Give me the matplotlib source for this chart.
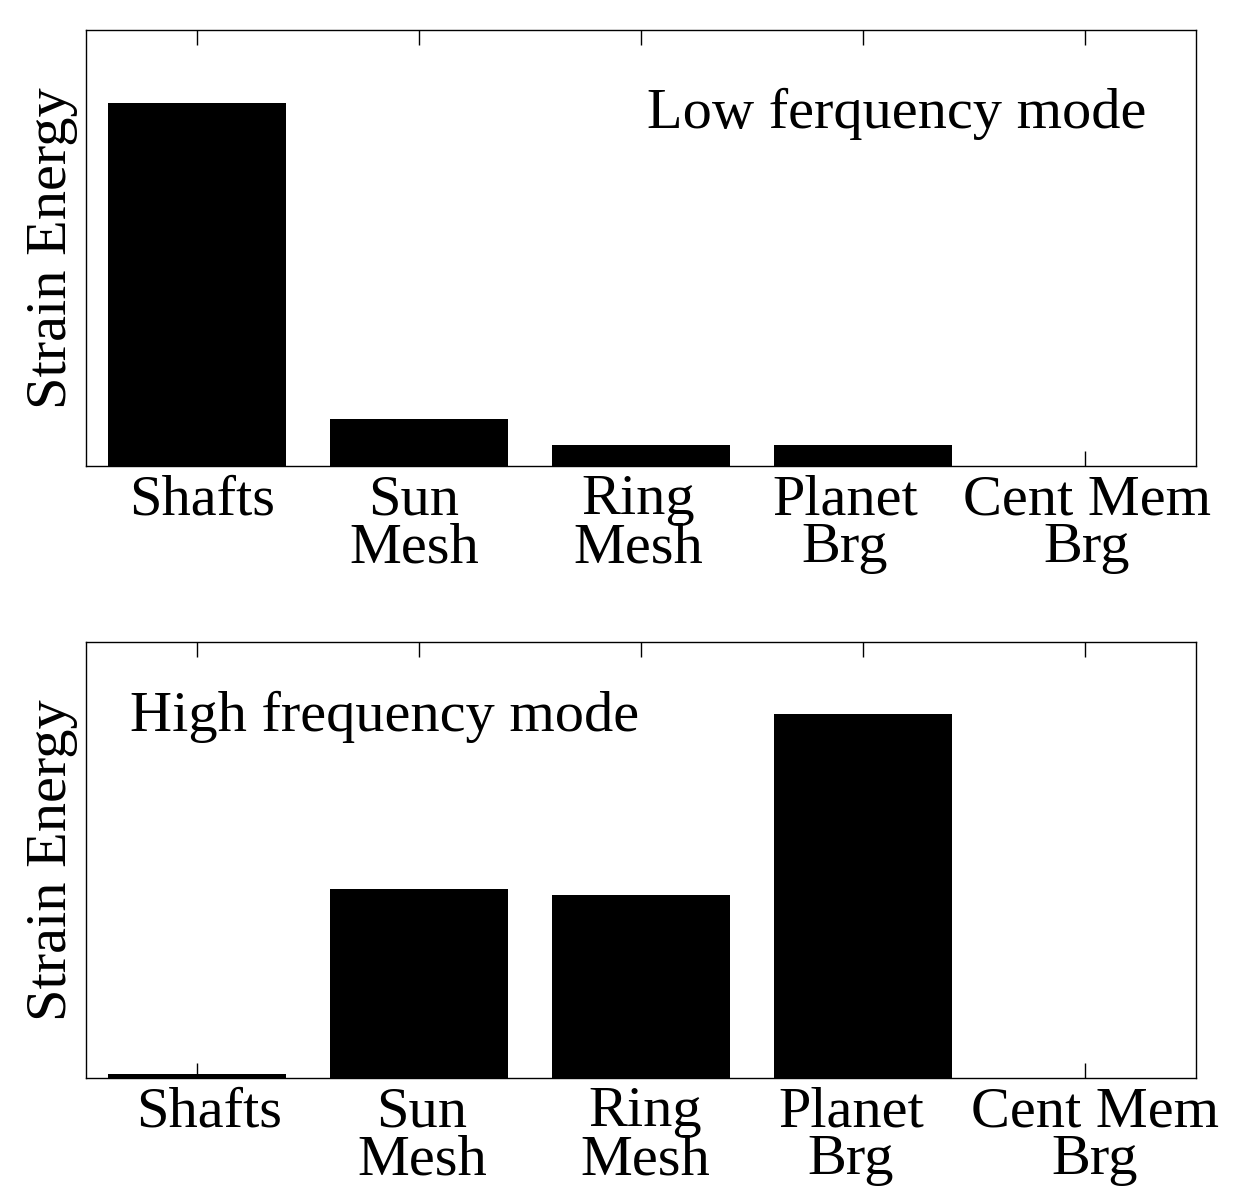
import numpy as np
import matplotlib.pyplot as plt
import matplotlib.transforms as mtransforms

categories = ['Shafts', 'Sun\nMesh', 'Ring\nMesh', 'Planet\nBrg', 'Cent Mem\nBrg']
low_mode = [0.833, 0.108, 0.048, 0.048, 0.0]
high_mode = [0.009, 0.433, 0.42, 0.835, 0.0]

plt.rcParams['font.family'] = ['Liberation Serif', 'DejaVu Serif']
plt.rcParams['font.size'] = 42

fig = plt.figure(figsize=(12.53, 11.94), dpi=100)
ax1 = fig.add_axes([0.0686, 0.6097, 0.8859, 0.3652])
ax2 = fig.add_axes([0.0686, 0.0972, 0.8859, 0.3652])

x = np.arange(1, len(categories) + 1)

# small horizontal nudges of the tick labels (pixels), as in the original
shifts_top = [5, -5, -3, -18, 2]
shifts_bot = [12, 3, 4, -12, 10]

panels = [(ax1, low_mode, 'Low ferquency mode', 0.505, 0.775, shifts_top),
          (ax2, high_mode, 'High frequency mode', 0.04, 0.795, shifts_bot)]

for ax, vals, title, tx, ty, shifts in panels:
    ax.bar(x, vals, width=0.8, color='black')
    ax.set_xlim(0.5, 5.5)
    ax.set_ylim(0, 1)
    ax.set_xticks(x)
    ax.set_xticklabels(categories, linespacing=0.9)
    ax.set_yticks([])
    ax.tick_params(axis='x', direction='in', top=True, length=11, width=1, pad=6)
    ax.set_ylabel('Strain Energy', labelpad=6)
    for s in ax.spines.values():
        s.set_linewidth(1)
    for lab, dx in zip(ax.get_xticklabels(), shifts):
        off = mtransforms.ScaledTranslation(dx / 100, 0, fig.dpi_scale_trans)
        lab.set_transform(lab.get_transform() + off)
    ax.text(tx, ty, title, transform=ax.transAxes, ha='left', va='baseline')

fig.savefig('out.png', dpi=100)
